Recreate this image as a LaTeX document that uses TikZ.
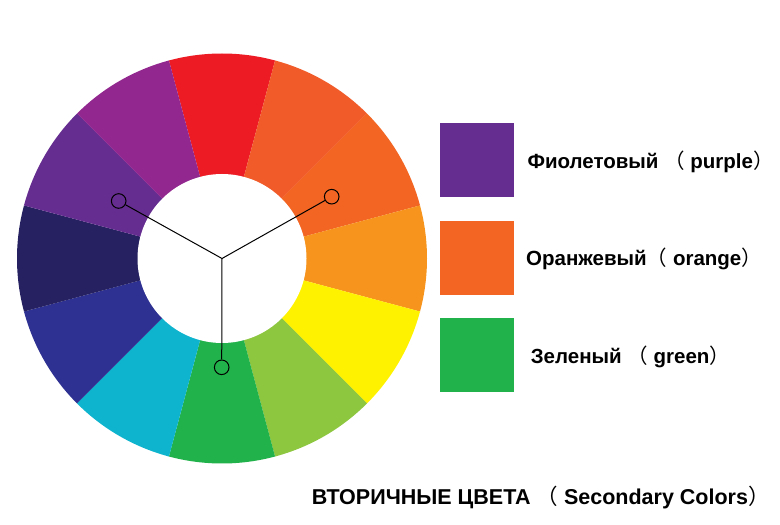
\documentclass[tikz,border=0pt]{standalone}
\usepackage{fontspec}
\setmainfont{Liberation Sans}
\newfontfamily\cjkparen{Noto Sans CJK SC}
\newcommand{\lp}{{\cjkparen\mdseries （}}
\newcommand{\rp}{{\cjkparen\mdseries ）}}
\definecolor{cRed}{HTML}{ED1C24}
\definecolor{cRedOrange}{HTML}{F15A29}
\definecolor{cOrange}{HTML}{F26522}
\definecolor{cYellowOrange}{HTML}{F7941D}
\definecolor{cYellow}{HTML}{FFF200}
\definecolor{cYellowGreen}{HTML}{8DC63F}
\definecolor{cGreen}{HTML}{22B24C}
\definecolor{cCyan}{HTML}{0EB4CE}
\definecolor{cBlue}{HTML}{2E3192}
\definecolor{cNavy}{HTML}{262262}
\definecolor{cPurple}{HTML}{662D91}
\definecolor{cMagenta}{HTML}{92278F}
\begin{document}
\begin{tikzpicture}[x=1pt,y=1pt,
  marker/.style={circle,draw=black,line width=1pt,minimum size=14.6pt,inner sep=0pt},
  spoke/.style={draw=black,line width=1pt},
  swatch/.style={minimum width=74pt,minimum height=74pt,inner sep=0pt},
  legendtext/.style={anchor=base west,inner sep=0pt,font=\fontsize{20.5}{24}\selectfont\bfseries},
  titletext/.style={anchor=base west,inner sep=0pt,font=\fontsize{21.5}{24}\selectfont\bfseries}]
\fill[white] (0,0) rectangle (780,525);
\useasboundingbox (0,0) rectangle (780,525);
\coordinate (C) at (222,266.5);
\foreach \a/\c in {90/cRed,60/cRedOrange,30/cOrange,0/cYellowOrange,-30/cYellow,-60/cYellowGreen,-90/cGreen,-120/cCyan,-150/cBlue,180/cNavy,150/cPurple,120/cMagenta}{
  \fill[\c] (C) -- ++(\a-15:205) arc[start angle=\a-15,end angle=\a+15,radius=205] -- cycle;
}
\fill[white] (C) circle[radius=84.5];
\node[marker] (mL) at (118.7,324) {};
\node[marker] (mR) at (331.7,328.3) {};
\node[marker] (mB) at (221.7,157.7) {};
\draw[spoke] (C) -- (mL);
\draw[spoke] (C) -- (mR);
\draw[spoke] (C) -- (mB);
\node[swatch,fill=cPurple] (s1) at (477,365.3) {};
\node[swatch,fill=cOrange] (s2) at (477,267.3) {};
\node[swatch,fill=cGreen] (s3) at (477,170) {};
\node[legendtext] (t1) at (527.3,356.5) {Фиолетовый \lp\ purple\rp};
\node[legendtext] (t2) at (526,259) {Оранжевый\lp\ orange\rp};
\node[legendtext] (t3) at (530.7,161.7) {Зеленый \lp\ green\rp};
\node[titletext] (tt) at (311.7,20.7) {ВТОРИЧНЫЕ ЦВЕТА \lp\ Secondary Colors\rp};
\end{tikzpicture}
\end{document}
